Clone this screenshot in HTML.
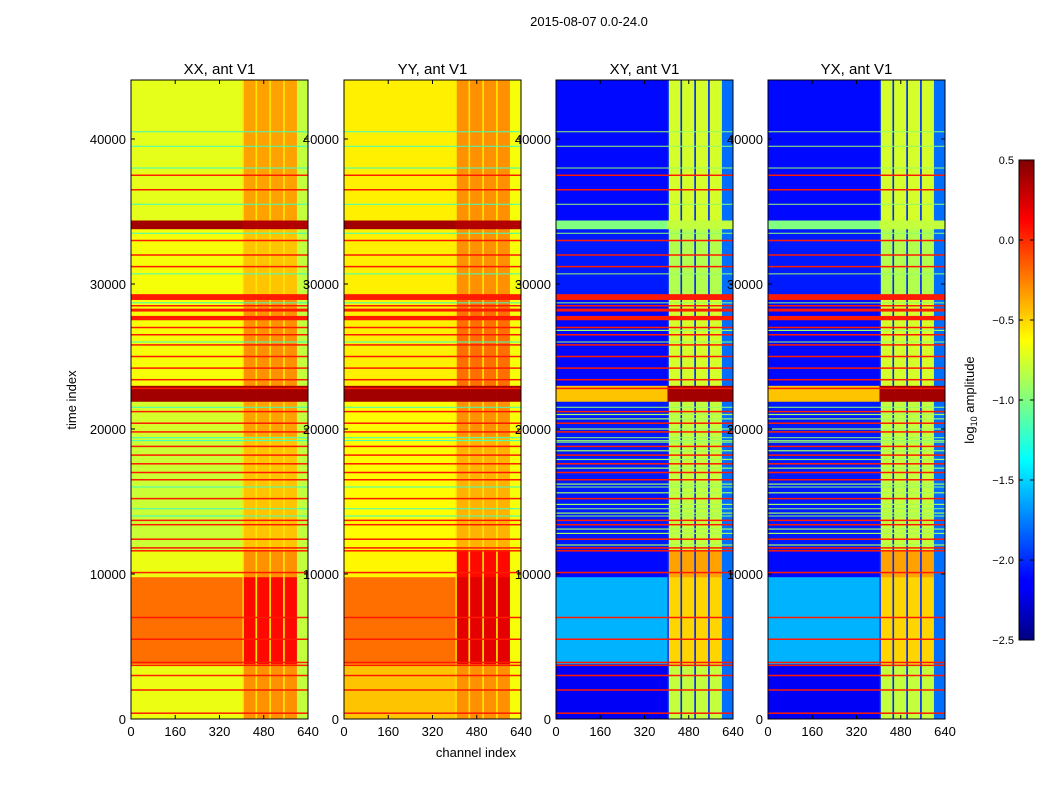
<!DOCTYPE html>
<html><head><meta charset="utf-8"><style>
body{margin:0;background:#fff;font-family:"Liberation Sans",sans-serif;}
svg text{font-family:"Liberation Sans",sans-serif;}
</style></head><body>
<svg id="fig" width="1050" height="800" xmlns="http://www.w3.org/2000/svg">
<rect width="1050" height="800" fill="#fff"/>
<text x="589" y="26" font-size="13" text-anchor="middle">2015-08-07 0.0-24.0</text>
<text x="476" y="757" font-size="13" text-anchor="middle">channel index</text>
<text x="76" y="400" font-size="13" text-anchor="middle" transform="rotate(-90 76 400)">time index</text>
<g id="panels"></g>
<defs><linearGradient id="jetg" x1="0" y1="1" x2="0" y2="0">
<stop offset="0" stop-color="#000080"/><stop offset="0.11" stop-color="#0000ff"/><stop offset="0.125" stop-color="#0000ff"/>
<stop offset="0.375" stop-color="#00ffff"/><stop offset="0.5" stop-color="#80ff80"/><stop offset="0.625" stop-color="#ffff00"/>
<stop offset="0.875" stop-color="#ff0000"/><stop offset="1" stop-color="#800000"/></linearGradient></defs>
<g>
<rect x="1019" y="160" width="15" height="480" fill="url(#jetg)" stroke="#000" stroke-width="1"/>
<g id="cbticks"></g>
<text x="974" y="400" font-size="13" text-anchor="middle" transform="rotate(-90 974 400)">log<tspan font-size="9" dy="3">10</tspan><tspan dy="-3"> amplitude</tspan></text>
</g>
</svg>
<script>
// ---- data ----
const panelTitles = ["XX, ant V1","YY, ant V1","XY, ant V1","YX, ant V1"];
const timeEdges = [0,3800,9800,11600,19500,21900,23000,29000,33800,34400,44070];
const xxLeft  = [-0.68,-0.2,-0.68,-0.78,-0.75,0.4,-0.65,-0.65,0.4,-0.7];
const xxBlock = [-0.3,0.1,-0.3,-0.45,-0.35,0.4,-0.3,-0.45,0.35,-0.35];
const yyLeft  = [-0.45,-0.2,-0.6,-0.62,-0.62,0.4,-0.58,-0.58,0.4,-0.58];
const yyBlock = [-0.3,0.2,0.1,-0.4,-0.3,0.4,-0.2,-0.3,0.35,-0.3];
const xyLeft  = [-2.15,-1.6,-2.1,-2.05,-2.05,-0.45,-2.1,-2.05,-1.0,-2.1];
const xyBlock = [-0.8,-0.5,-0.35,-0.8,-0.8,0.4,-0.75,-0.85,-0.8,-0.75];
const gapVals  = [-0.55,-0.55,-2.0,-2.0];
const edgeVals = [-0.8,-0.65,-1.8,-1.8];
const redBands = [[27500,27800],[28100,28300],[28900,29300]];
const redLines = [400,2000,3000,3700,3900,5500,7000,10100,11600,11800,12400,13400,13700,15200,16500,17000,17600,18200,18800,19800,20400,21200,22800,23400,24200,25000,25800,26500,27000,28500,31200,32000,33000,36500,37500];
const cyanLines = [14000,14500,16000,19200,19400,21500,26000,28700,30700,33500,35500,38000,39500,40500];
const greenLines = [12000,12800,13100,14200,14800,15600,16200,17300,17900,18500,19100,20000,20700,21000,26800];
const xTicks = [0,160,320,480,640];
const yTicks = [0,10000,20000,30000,40000];
const cbTicks = [0.5,0,-0.5,-1.0,-1.5,-2.0,-2.5];
// ---- layout ----
const panelX = [131,344,556,768], PW=177, PT=80, PB=719, TMAX=44070;
const chanSegs = [[0,403,'L'],[403,408,'G'],[408,450,'B'],[450,456,'G'],[456,500,'B'],[500,506,'G'],[506,550,'B'],[550,556,'G'],[556,600,'B'],[600,640,'E']];
function jet(v){let t=(v+2.5)/3;t=Math.max(0,Math.min(1,t));
 const c=x=>Math.max(0,Math.min(1,1.5-Math.abs(4*t-x)));
 return `rgb(${Math.round(255*c(3))},${Math.round(255*c(2))},${Math.round(255*c(1))})`;}
const NS="http://www.w3.org/2000/svg";
const g=document.getElementById('panels');
function mk(tag,attrs,parent){const e=document.createElementNS(NS,tag);for(const k in attrs)e.setAttribute(k,attrs[k]);parent.appendChild(e);return e;}
const lefts=[xxLeft,yyLeft,xyLeft,xyLeft], blocks=[xxBlock,yyBlock,xyBlock,xyBlock];
for(let p=0;p<4;p++){
 const x0=panelX[p];
 const sx=c=>x0+c/640*PW, sy=t=>PB-t/TMAX*(PB-PT);
 const pg=mk('g',{},g);
 
 
 for(let i=0;i<timeEdges.length-1;i++){
  for(const s of chanSegs){
   let v = s[2]==='L'?lefts[p][i]: s[2]==='B'?blocks[p][i]: s[2]==='G'?gapVals[p]:edgeVals[p];
   if((s[2]==='G'||s[2]==='E') && (i===5||i===8)) v=blocks[p][i];
   const r=mk('rect',{x:sx(s[0]),y:sy(timeEdges[i+1]),width:sx(s[1])-sx(s[0])+0.3,height:sy(timeEdges[i])-sy(timeEdges[i+1])+0.3,fill:jet(v)},pg);
   
   
  }
 }
 for(const [a,b] of redBands){
  const r=mk('rect',{x:x0,y:sy(b),width:PW,height:sy(a)-sy(b),fill:jet(0.05)},pg);
  
  
 }
 const lineSets=[[cyanLines,p<2?-1.2:-0.95,1],[greenLines,-0.9,1.2],[redLines,0.05,1.5]];
 for(const [arr,v,h] of lineSets){
  if(p<2 && arr===greenLines) continue;
  for(const t of arr){
   const r=mk('rect',{x:x0,y:sy(t)-h/2,width:PW,height:h,fill:jet(v)},pg);
   
   
  }
 }
 mk('rect',{x:x0,y:PT,width:PW,height:PB-PT,fill:'none',stroke:'#000','stroke-width':1},pg);
 const tt=mk('text',{x:x0+PW/2,y:74,'font-size':15,'text-anchor':'middle'},pg);tt.textContent=panelTitles[p];
 
 
 for(const c of xTicks){
  mk('line',{x1:sx(c),x2:sx(c),y1:PB,y2:PB-4,stroke:'#000'},pg);
  mk('line',{x1:sx(c),x2:sx(c),y1:PT,y2:PT+4,stroke:'#000'},pg);
  const l=mk('text',{x:sx(c),y:PB+17,'font-size':13,'text-anchor':'middle'},pg);l.textContent=c;
  
  
 }
 for(const t of yTicks){
  mk('line',{x1:x0,x2:x0+4,y1:sy(t),y2:sy(t),stroke:'#000'},pg);
  mk('line',{x1:x0+PW,x2:x0+PW-4,y1:sy(t),y2:sy(t),stroke:'#000'},pg);
  const l=mk('text',{x:x0-5,y:sy(t)+5,'font-size':13,'text-anchor':'end'},pg);l.textContent=t;
  
  
 }
}
const cb=document.getElementById('cbticks');
for(const v of cbTicks){
 const y=640-(v+2.5)/3*480;
 mk('line',{x1:1019,x2:1023,y1:y,y2:y,stroke:'#000'},cb);
 mk('line',{x1:1030,x2:1034,y1:y,y2:y,stroke:'#000'},cb);
 const l=mk('text',{x:1014,y:y+4,'font-size':11,'text-anchor':'end'},cb);l.textContent=v.toFixed(1).replace('-','−');
 
 
}
</script>
</body></html>
